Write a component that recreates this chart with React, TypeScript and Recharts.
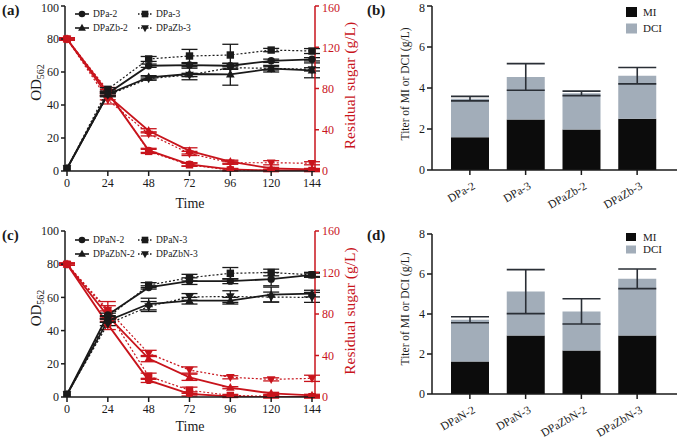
import React from "react";
import {
  ComposedChart, Line, XAxis, YAxis, ErrorBar, Legend, Label, BarChart, Bar,
} from "recharts";

const SERIF = "'Liberation Serif', 'Times New Roman', serif";
const RED = "#c8141c";
const INK = "#1a1a1a";

// ---- time course data (panels a and c) ----
const times = [0, 24, 48, 72, 96, 120, 144];

const namesA = ["DPa-2", "DPa-3", "DPaZb-2", "DPaZb-3"];
const odA_DPa2 = [1.5, 47, 63.8, 64.2, 63.8, 66.8, 67.7];
const odA_DPa3 = [1.5, 49.5, 67.9, 69.7, 70.3, 73.3, 72.7];
const odA_DPaZb2 = [1.5, 46.5, 56.8, 58.8, 58.6, 62, 61];
const odA_DPaZb3 = [1.5, 46, 56, 58.2, 62.6, 62.2, 61.6];
const odErrA_DPa2 = [0, 1, 1, 1, 1.5, 1, 1];
const odErrA_DPa3 = [0, 1, 1.5, 4, 6.5, 1, 1.5];
const odErrA_DPaZb2 = [0, 1, 1, 3.5, 6.6, 2, 4.5];
const odErrA_DPaZb3 = [0, 1, 1, 1, 1, 1, 1];
const sugA_DPa2 = [128, 76, 20, 6.5, 1.5, 0.5, 0.5];
const sugA_DPa3 = [128, 78, 19, 6, 1, 0.5, 0.5];
const sugA_DPaZb2 = [128, 73, 39, 19.5, 9, 2.5, 1.5];
const sugA_DPaZb3 = [128, 69, 36, 17, 8, 8, 7.5];
const sugErrA_DPa2 = [1, 3, 2, 1.5, 1, 1, 1];
const sugErrA_DPa3 = [1, 3, 2, 1.5, 1, 1, 1];
const sugErrA_DPaZb2 = [1, 4, 2, 3, 1.5, 1, 1];
const sugErrA_DPaZb3 = [1, 4, 2, 2, 1.5, 2, 1.5];

const namesC = ["DPaN-2", "DPaN-3", "DPaZbN-2", "DPaZbN-3"];
const odC_DPaN2 = [1.5, 49.5, 66, 69.8, 69.8, 71, 73.6];
const odC_DPaN3 = [1.5, 48, 67.4, 71.9, 74.5, 75, 73.6];
const odC_DPaZbN2 = [1.5, 46, 56, 58, 58, 61.7, 62.3];
const odC_DPaZbN3 = [1.5, 44, 54.5, 60.3, 60.5, 60.2, 60];
const odErrC_DPaN2 = [0, 1, 1, 2, 1.5, 4, 1.5];
const odErrC_DPaN3 = [0, 1, 1.5, 2, 3.5, 2, 1];
const odErrC_DPaZbN2 = [0, 1, 3.5, 2, 2, 4.5, 2];
const odErrC_DPaZbN3 = [0, 1, 3, 2, 3.5, 3, 3];
const sugC_DPaN2 = [128, 70, 16, 3, 0.5, 0, 0];
const sugC_DPaN3 = [128, 82, 20, 6.5, 1.5, 0.5, 0.3];
const sugC_DPaZbN2 = [128, 78, 37, 19, 9, 3.5, 1.6];
const sugC_DPaZbN3 = [128, 84, 42, 26, 19, 17, 18];
const sugErrC_DPaN2 = [1, 5, 2, 2, 1, 1, 1];
const sugErrC_DPaN3 = [1, 6, 3, 3, 1, 1, 1];
const sugErrC_DPaZbN2 = [1, 5, 3, 3, 1, 1, 1];
const sugErrC_DPaZbN3 = [1, 8, 3, 3, 1.5, 1.5, 3];

const shapes = ["circle", "square", "triangle", "invtriangle"];
const dashedSeries = [false, true, false, true];

// ---- titer data (panels b and d) ----
const catsB = ["DPa-2", "DPa-3", "DPaZb-2", "DPaZb-3"];
const miB = [1.6, 2.46, 1.98, 2.5];
const dciB = [1.88, 2.08, 1.76, 2.1];
const errB = [0.11, 0.65, 0.11, 0.4];

const catsD = ["DPaN-2", "DPaN-3", "DPaZbN-2", "DPaZbN-3"];
const miD = [1.62, 2.93, 2.18, 2.93];
const dciD = [2.09, 2.19, 1.95, 2.83];
const errD = [0.15, 1.1, 0.63, 0.49];

function Marker({ cx, cy, shape, color, s = 3.7 }: any) {
  if (cx == null || cy == null) return null;
  if (shape === "circle") return <circle cx={cx} cy={cy} r={s} fill={color} />;
  if (shape === "square")
    return <rect x={cx - s} y={cy - s} width={s * 2} height={s * 2} fill={color} />;
  if (shape === "triangle")
    return <polygon points={`${cx},${cy - s - 1} ${cx + s + 0.6},${cy + s - 0.5} ${cx - s - 0.6},${cy + s - 0.5}`} fill={color} />;
  return <polygon points={`${cx},${cy + s + 1} ${cx + s + 0.6},${cy - s + 0.5} ${cx - s - 0.6},${cy - s + 0.5}`} fill={color} />;
}

function LineLegend({ names }: { names: string[] }) {
  return (
    <svg width={150} height={30} style={{ display: "block", fontFamily: SERIF }}>
      {names.map((n, i) => {
        const x0 = (i % 2) * 63;
        const y0 = 7 + Math.floor(i / 2) * 14;
        return (
          <g key={n}>
            <line x1={x0} x2={x0 + 14} y1={y0} y2={y0} stroke={INK} strokeWidth={1.6}
              strokeDasharray={dashedSeries[i] ? "1.5 1.5" : undefined} />
            <Marker cx={x0 + 7} cy={y0} shape={shapes[i]} color={INK} s={3.3} />
            <text x={x0 + 18} y={y0 + 3.3} fontSize={9.5} fill={INK}>{n}</text>
          </g>
        );
      })}
    </svg>
  );
}

function buildRows(od: number[][], odErr: number[][], sug: number[][], sugErr: number[][]) {
  return times.map((t, i) => {
    const row: any = { t };
    for (let k = 0; k < 4; k++) {
      row[`od${k}`] = od[k][i];
      row[`odE${k}`] = odErr[k][i];
      row[`s${k}`] = sug[k][i];
      row[`sE${k}`] = sugErr[k][i];
    }
    return row;
  });
}

function TimeChart({ rows, names, height, top, xh, legendTop }: any) {
  const idx = [0, 1, 2, 3];
  return (
    <ComposedChart width={380} height={height} data={rows}
      margin={{ top, right: 5, bottom: 0, left: 5 }}>
      <XAxis dataKey="t" type="number" domain={[0, 144]} ticks={times} height={xh}
        padding={{ left: 2, right: 3 }} tickSize={5} tickMargin={2}
        axisLine={{ stroke: INK, strokeWidth: 1.5 }} tickLine={{ stroke: INK, strokeWidth: 1.5 }}
        tick={{ fill: INK, fontSize: 12, fontFamily: SERIF }}>
        <Label value="Time" position="insideBottom" offset={7} fill={INK} fontSize={14} fontFamily={SERIF} />
      </XAxis>
      <YAxis yAxisId="left" domain={[0, 100]} ticks={[0, 20, 40, 60, 80, 100]} width={60} allowDataOverflow
        tickSize={4} tickMargin={2}
        axisLine={{ stroke: INK, strokeWidth: 1.5 }} tickLine={{ stroke: INK, strokeWidth: 1.5 }}
        tick={{ fill: INK, fontSize: 12, fontFamily: SERIF }}>
        <Label content={(p: any) => {
          const vb = p.viewBox; const x = 41; const y = vb.y + vb.height / 2 - 6;
          return (
            <text x={x} y={y} transform={`rotate(-90 ${x} ${y})`} textAnchor="middle"
              fontSize={15} fill={INK} fontFamily={SERIF}>
              OD<tspan fontSize={10} dy={3}>562</tspan>
            </text>
          );
        }} />
      </YAxis>
      <YAxis yAxisId="right" orientation="right" domain={[0, 160]} ticks={[0, 40, 80, 120, 160]}
        width={60} allowDataOverflow tickSize={4} tickMargin={3}
        axisLine={{ stroke: RED, strokeWidth: 1.5 }} tickLine={{ stroke: RED, strokeWidth: 1.5 }}
        tick={{ fill: RED, fontSize: 12, fontFamily: SERIF }}>
        <Label content={(p: any) => {
          const vb = p.viewBox; const x = 355; const y = vb.y + vb.height / 2 - 3;
          return (
            <text x={x} y={y} transform={`rotate(-90 ${x} ${y})`} textAnchor="middle"
              fontSize={15.5} fill={RED} fontFamily={SERIF}>Residual sugar (g/L)</text>
          );
        }} />
      </YAxis>
      {idx.map((k) => (
        <Line key={`s${k}`} yAxisId="right" dataKey={`s${k}`} name={`${names[k]} sugar`}
          stroke={RED} strokeWidth={dashedSeries[k] ? 1.2 : 1.8}
          strokeDasharray={dashedSeries[k] ? "2 2" : undefined} isAnimationActive={false}
          legendType="none"
          dot={(p: any) => <Marker key={`ds${k}-${p.index}`} cx={p.cx} cy={p.cy} shape={shapes[k]} color={RED} />}
          activeDot={false}>
          <ErrorBar dataKey={`sE${k}`} direction="y" width={8} stroke={RED} strokeWidth={1.3} />
        </Line>
      ))}
      {idx.map((k) => (
        <Line key={`od${k}`} yAxisId="left" dataKey={`od${k}`} name={names[k]}
          stroke={INK} strokeWidth={dashedSeries[k] ? 1.2 : 1.8}
          strokeDasharray={dashedSeries[k] ? "2 2" : undefined} isAnimationActive={false}
          dot={(p: any) => <Marker key={`do${k}-${p.index}`} cx={p.cx} cy={p.cy} shape={shapes[k]} color={INK} />}
          activeDot={false}>
          <ErrorBar dataKey={`odE${k}`} direction="y" width={8} stroke={INK} strokeWidth={1.3} />
        </Line>
      ))}
      <Legend layout="horizontal" verticalAlign="middle" align="center"
        wrapperStyle={{ left: 75, top: legendTop, width: 150, height: 30 }}
        content={() => <LineLegend names={names} />} />
    </ComposedChart>
  );
}

function BarTick({ x, y, payload }: any) {
  const tx = x + 6;
  const ty = y + 11;
  return (
    <text x={tx} y={ty} transform={`rotate(-30 ${tx} ${ty})`} textAnchor="end"
      fontSize={11.5} fill={INK} fontFamily={SERIF}>{payload.value}</text>
  );
}

function BarLegend({ gap, sw, sh }: { gap: number; sw: number; sh: number }) {
  const o = 4;
  return (
    <svg width={60} height={44} style={{ display: "block", fontFamily: SERIF }}>
      <rect x={0} y={o} width={sw} height={sh} fill="#0c0c0c" />
      <text x={17} y={o + sh / 2 + 3.8} fontSize={11} fill={INK}>MI</text>
      <rect x={0} y={o + gap} width={sw} height={sh} fill="#a2adb9" />
      <text x={17} y={o + gap + sh / 2 + 3.8} fontSize={11} fill={INK}>DCI</text>
    </svg>
  );
}

function TiterChart({ cats, mi, dci, err, height, top, xh, legendTop, gap, sw, sh, labelY }: any) {
  const rows = cats.map((c: string, i: number) => ({ c, mi: mi[i], dci: dci[i], err: err[i] }));
  return (
    <BarChart width={298} height={height} data={rows}
      margin={{ top, right: 1, bottom: 0, left: 10 }} barSize={38}>
      <XAxis dataKey="c" height={xh} padding={{ left: 10, right: 12 }} tickSize={5} tickMargin={2}
        axisLine={{ stroke: INK, strokeWidth: 1.5 }} tickLine={{ stroke: INK, strokeWidth: 1.5 }}
        tick={<BarTick />} interval={0} />
      <YAxis domain={[0, 8]} ticks={[0, 2, 4, 6, 8]} width={42} allowDataOverflow tickSize={5} tickMargin={2}
        axisLine={{ stroke: INK, strokeWidth: 1.5 }} tickLine={{ stroke: INK, strokeWidth: 1.5 }}
        tick={{ fill: INK, fontSize: 12, fontFamily: SERIF }}>
        <Label content={() => {
          const x = 29; const y = labelY;
          return (
            <text x={x} y={y} transform={`rotate(-90 ${x} ${y})`} textAnchor="middle"
              fontSize={11.5} fill={INK} fontFamily={SERIF}>Titer of MI or DCI (g/L)</text>
          );
        }} />
      </YAxis>
      <Bar dataKey="mi" stackId="a" fill="#0c0c0c" isAnimationActive={false} />
      <Bar dataKey="dci" stackId="a" fill="#a2adb9" isAnimationActive={false}>
        <ErrorBar dataKey="err" width={19} stroke="#2a2f36" strokeWidth={1.6} direction="y" />
      </Bar>
      <Legend layout="horizontal" verticalAlign="middle" align="center"
        wrapperStyle={{ left: 246, top: legendTop - 4, width: 60, height: 44 }}
        content={() => <BarLegend gap={gap} sw={sw} sh={sh} />} />
    </BarChart>
  );
}

const panelLabel = (text: string, left: number, top: number) => (
  <div style={{ position: "absolute", left, top, fontSize: 15, fontWeight: 700, fontFamily: SERIF, lineHeight: 1, color: INK }}>
    {text}
  </div>
);

export default function App() {
  const rowsA = buildRows(
    [odA_DPa2, odA_DPa3, odA_DPaZb2, odA_DPaZb3],
    [odErrA_DPa2, odErrA_DPa3, odErrA_DPaZb2, odErrA_DPaZb3],
    [sugA_DPa2, sugA_DPa3, sugA_DPaZb2, sugA_DPaZb3],
    [sugErrA_DPa2, sugErrA_DPa3, sugErrA_DPaZb2, sugErrA_DPaZb3],
  );
  const rowsC = buildRows(
    [odC_DPaN2, odC_DPaN3, odC_DPaZbN2, odC_DPaZbN3],
    [odErrC_DPaN2, odErrC_DPaN3, odErrC_DPaZbN2, odErrC_DPaZbN3],
    [sugC_DPaN2, sugC_DPaN3, sugC_DPaZbN2, sugC_DPaZbN3],
    [sugErrC_DPaN2, sugErrC_DPaN3, sugErrC_DPaZbN2, sugErrC_DPaZbN3],
  );
  return (
    <div style={{ position: "absolute", left: 0, top: 0, width: 678, height: 438, background: "#fff", fontFamily: SERIF, overflow: "hidden" }}>
      <div style={{ position: "absolute", left: 0, top: 0 }}>
        <TimeChart rows={rowsA} names={namesA} height={215} top={6} xh={44} legendTop={7} />
      </div>
      <div style={{ position: "absolute", left: 0, top: 215 }}>
        <TimeChart rows={rowsC} names={namesC} height={223} top={16} xh={41} legendTop={18} />
      </div>
      <div style={{ position: "absolute", left: 380, top: 0 }}>
        <TiterChart cats={catsB} mi={miB} dci={dciB} err={errB} height={215} top={6} xh={45}
          legendTop={7} gap={16.5} sw={11} sh={10} labelY={84} />
      </div>
      <div style={{ position: "absolute", left: 380, top: 220 }}>
        <TiterChart cats={catsD} mi={miD} dci={dciD} err={errD} height={218} top={14} xh={44}
          legendTop={13} gap={12.5} sw={10} sh={8} labelY={89} />
      </div>
      {panelLabel("(a)", 2, 3)}
      {panelLabel("(b)", 367, 3)}
      {panelLabel("(c)", 2, 228)}
      {panelLabel("(d)", 367, 228)}
    </div>
  );
}
